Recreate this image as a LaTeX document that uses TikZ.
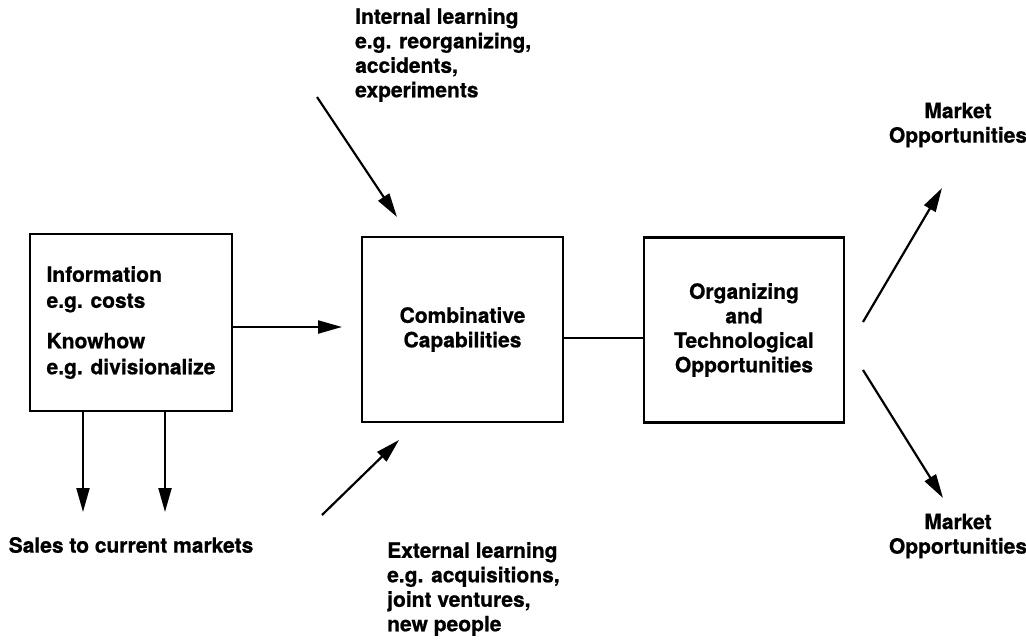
\documentclass[tikz,border=0pt]{standalone}
\usepackage{fontspec}
\setmainfont{TeX Gyre Heros}[BoldFeatures={FakeBold=0.8}]
\usetikzlibrary{arrows.meta}
\begin{document}
\begin{tikzpicture}[x=1pt,y=-1pt,
  lbl/.style={font=\bfseries\fontsize{21}{24.5}\selectfont, inner sep=0pt},
  box/.style={draw, line width=2.2pt, lbl, minimum width=#1, minimum height=185pt},
  arr/.style={line width=2.2pt, -{Triangle[length=24pt,width=13pt]}},
  link/.style={line width=2.2pt}]
\useasboundingbox (0,0) rectangle (1026,643);

% the three boxes
\node[box=202pt, minimum height=177pt, align=left] (info) at (131,322.5)
  {Information\\[1.5pt]e.g. costs\\[16pt]Knowhow\\[1.5pt]e.g. divisionalize};
\node[box=201pt, align=center] (comb) at (462.5,329.5) {Combinative\\Capabilities};
\node[box=200pt, align=center] (org) at (744,330)
  {Organizing\\and\\Technological\\Opportunities};

% free labels
\node[lbl, anchor=west, align=left] (intl) at (355,55)
  {Internal learning\\e.g. reorganizing,\\accidents,\\experiments};
\node[lbl, anchor=west, align=left] (extl) at (387,589)
  {External learning\\e.g. acquisitions,\\joint ventures,\\new people};
\node[lbl] (sales) at (131,545) {Sales to current markets};
\node[lbl, align=center] (mkt1) at (958,125) {Market\\Opportunities};
\node[lbl, align=center] (mkt2) at (958,536) {Market\\Opportunities};

% arrow ends
\coordinate (infoEnd) at (342,327);
\coordinate (intTail) at (317,97);
\coordinate (intTip) at (397,217);
\coordinate (extTail) at (322,515);
\coordinate (extTip) at (399,440);
\coordinate (s1) at (83,512);
\coordinate (s2) at (165,512);
\coordinate (m1Tail) at (863,322);
\coordinate (m1Tip) at (942,188);
\coordinate (m2Tail) at (863,370);
\coordinate (m2Tip) at (943,498);

% connectors
\draw[arr] (info.east |- infoEnd) -- (infoEnd);
\draw[link] (comb.east |- 0,338) -- (org.west |- 0,338);
\draw[arr] (intTail) -- (intTip);
\draw[arr] (extTail) -- (extTip);
\draw[arr] (info.south -| s1) -- (s1);
\draw[arr] (info.south -| s2) -- (s2);
\draw[arr] (m1Tail) -- (m1Tip);
\draw[arr] (m2Tail) -- (m2Tip);
\end{tikzpicture}
\end{document}
